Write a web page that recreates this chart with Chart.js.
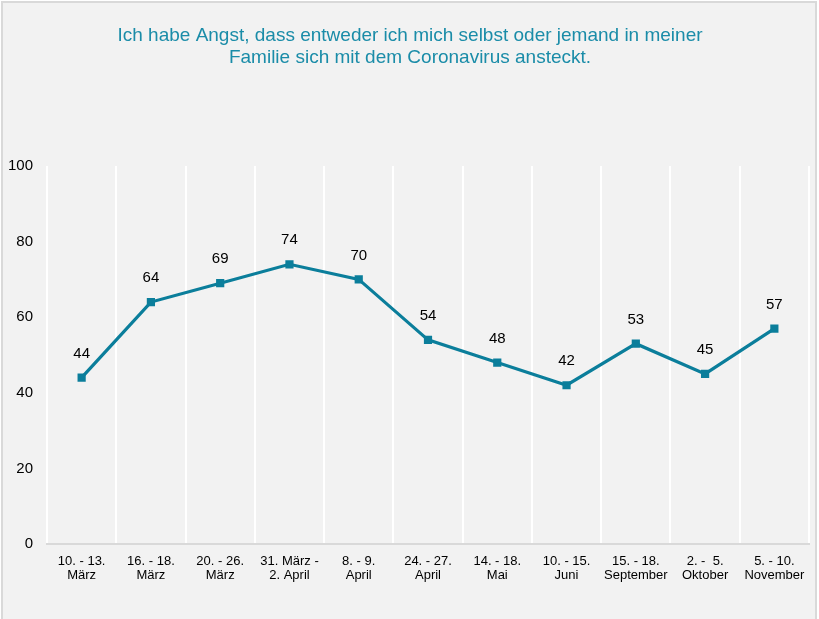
<!DOCTYPE html>
<html>
<head>
<meta charset="utf-8">
<script src="https://cdn.jsdelivr.net/npm/chart.js@4.4.1/dist/chart.umd.min.js"></script>
<style>
  html, body { margin: 0; padding: 0; background: #ffffff; }
  #wrap { position: relative; width: 819px; height: 619px; overflow: hidden; }
  #frame { position: absolute; left: 1px; top: 1px; width: 812px; height: 640px;
           border: 2px solid #d9d9d9; background: #f2f2f2; }
  #c { position: absolute; left: 0; top: 0; }
</style>
</head>
<body>
<div id="wrap">
  <div id="frame"></div>
  <canvas id="c" width="819" height="619"></canvas>
</div>
<script>
const titleLines = [
  'Ich habe Angst, dass entweder ich mich selbst oder jemand in meiner',
  'Familie sich mit dem Coronavirus ansteckt.'
];
const categories = [
  ['10. - 13.', 'März'],
  ['16. - 18.', 'März'],
  ['20. - 26.', 'März'],
  ['31. März -', '2. April'],
  ['8. - 9.', 'April'],
  ['24. - 27.', 'April'],
  ['14. - 18.', 'Mai'],
  ['10. - 15.', 'Juni'],
  ['15. - 18.', 'September'],
  ['2. -  5.', 'Oktober'],
  ['5. - 10.', 'November']
];
const values = [44, 64, 69, 74, 70, 54, 48, 42, 53, 45, 57];
const yTicks = [0, 20, 40, 60, 80, 100];

const FONT = '"Liberation Sans", Arial, sans-serif';
const LINE_COLOR = '#0b7e9b';
const TITLE_COLOR = '#1a8ca8';

const titlePlugin = {
  id: 'customTitle',
  afterDraw(chart) {
    const ctx = chart.ctx;
    ctx.save();
    ctx.font = '19px ' + FONT;
    ctx.fillStyle = TITLE_COLOR;
    ctx.textAlign = 'center';
    ctx.textBaseline = 'alphabetic';
    ctx.fillText(titleLines[0], 410, 41);
    ctx.fillText(titleLines[1], 410, 63);
    ctx.restore();
  }
};

const valueLabels = {
  id: 'valueLabels',
  afterDatasetsDraw(chart) {
    const ctx = chart.ctx;
    const meta = chart.getDatasetMeta(0);
    ctx.save();
    ctx.font = '15px ' + FONT;
    ctx.fillStyle = '#000000';
    ctx.textAlign = 'center';
    ctx.textBaseline = 'middle';
    meta.data.forEach((pt, i) => {
      ctx.fillText(String(chart.data.datasets[0].data[i]), pt.x, pt.y - 24);
    });
    ctx.restore();
  }
};

new Chart(document.getElementById('c'), {
  type: 'line',
  data: {
    labels: categories,
    datasets: [{
      data: values,
      borderColor: LINE_COLOR,
      backgroundColor: LINE_COLOR,
      borderWidth: 3.2,
      pointStyle: 'rect',
      pointRadius: 5.8,
      pointBorderWidth: 0,
      pointBackgroundColor: LINE_COLOR,
      tension: 0,
      fill: false
    }]
  },
  options: {
    responsive: false,
    animation: false,
    layout: { padding: { top: 166, right: 10, bottom: 0, left: 0 } },
    plugins: {
      legend: { display: false },
      title: { display: false },
      tooltip: { enabled: false }
    },
    scales: {
      x: {
        type: 'category',
        offset: true,
        grid: { display: true, offset: true, color: '#ffffff', lineWidth: 2, drawTicks: false },
        border: { display: true, color: '#d9d9d9', width: 2 },
        ticks: {
          color: '#000000',
          font: { family: FONT, size: 13, lineHeight: 1.1 },
          padding: 10,
          maxRotation: 0,
          autoSkip: false
        },
        afterFit(scale) { scale.height = 75; }
      },
      y: {
        min: 0,
        max: 100,
        afterBuildTicks(scale) { scale.ticks = yTicks.map(v => ({ value: v })); },
        grid: { display: false, drawTicks: false },
        border: { display: false },
        ticks: {
          color: '#000000',
          font: { family: FONT, size: 15 },
          padding: 14
        },
        afterFit(scale) { scale.width = 47; }
      }
    }
  },
  plugins: [titlePlugin, valueLabels]
});
</script>
</body>
</html>
